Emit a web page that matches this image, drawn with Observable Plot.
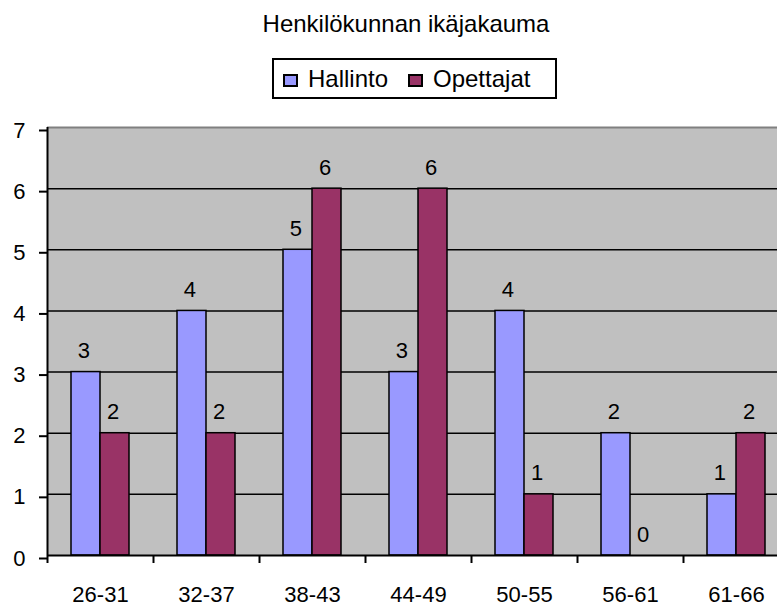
<!DOCTYPE html>
<html>
<head>
<meta charset="utf-8">
<script src="https://cdn.jsdelivr.net/npm/d3@7"></script>
<script src="https://cdn.jsdelivr.net/npm/@observablehq/plot@0.6"></script>
<style>
  html, body { margin: 0; padding: 0; background: #fff; overflow: hidden; }
  body { width: 777px; height: 605px; position: relative; font-family: "Liberation Sans", Arial, sans-serif; }
  #title { position: absolute; left: 0; top: 12px; width: 812px; text-align: center; font-size: 24px; line-height: 24px; color: #000; }
  #legend { position: absolute; left: 272px; top: 58px; width: 281px; height: 37px; border: 2px solid #000; background: #fff; }
  .sw { position: absolute; top: 14px; width: 11px; height: 9px; border: 2px solid #000; }
  .lt { position: absolute; top: 7px; font-size: 24px; line-height: 24px; }
  #chart { position: absolute; left: 0; top: 105px; }
  #chart svg { overflow: hidden; }
</style>
</head>
<body>
<div id="title">Henkilökunnan ikäjakauma</div>
<div id="legend"></div>
<div id="chart"></div>
<script>
const categories = ["26-31", "32-37", "38-43", "44-49", "50-55", "56-61", "61-66"];
const seriesNames = ["Hallinto", "Opettajat"];
const hallinto = [3, 4, 5, 3, 4, 2, 1];
const opettajat = [2, 2, 6, 6, 1, 0, 2];
const yTicks = [0, 1, 2, 3, 4, 5, 6, 7];
const colors = ["#9999FF", "#993366"];

// legend
const legend = document.getElementById("legend");
const legendX = [[9, 34], [134, 159]];
seriesNames.forEach((name, i) => {
  const sw = document.createElement("div");
  sw.className = "sw";
  sw.style.left = legendX[i][0] + "px";
  sw.style.background = colors[i];
  legend.appendChild(sw);
  const t = document.createElement("div");
  t.className = "lt";
  t.style.left = legendX[i][1] + "px";
  t.textContent = name;
  legend.appendChild(t);
});

// table built from the arrays
const half = 0.2736;
const rows = [];
categories.forEach((c, i) => {
  rows.push({cat: c, i, series: "Hallinto", value: hallinto[i], x1: i + 0.5 - half, x2: i + 0.5});
  rows.push({cat: c, i, series: "Opettajat", value: opettajat[i], x1: i + 0.5, x2: i + 0.5 + half});
});
const centers = categories.map((c, i) => i + 0.5);
const boundaries = categories.map((c, i) => i).concat([categories.length]);

const chart = Plot.plot({
  width: 777,
  height: 500,
  marginLeft: 47,
  marginRight: 0,
  marginTop: 22,
  marginBottom: 50,
  style: {fontFamily: "Liberation Sans, Arial, sans-serif", background: "transparent", overflow: "hidden"},
  x: {type: "linear", domain: [0, categories.length], range: [47, 47 + 106 * categories.length], axis: null},
  y: {domain: [0, 7], axis: null},
  color: {domain: seriesNames, range: colors},
  marks: [
    Plot.frame({fill: "#C0C0C0", stroke: null}),
    Plot.ruleY([7], {stroke: "#808080", strokeWidth: 2}),
    Plot.ruleY(yTicks.filter(d => d > 0 && d < 7), {stroke: "#000", strokeWidth: 1.5}),
    Plot.rectY(rows, {x1: "x1", x2: "x2", y1: 0, y2: "value", fill: "series", stroke: "#000", strokeWidth: 1.5}),
    Plot.text(rows, {x: d => (d.x1 + d.x2) / 2, y: "value", text: d => String(d.value), fontSize: 22, lineAnchor: "bottom", dy: -14, dx: -2, fill: "#000"}),
    Plot.ruleX([0], {stroke: "#000", strokeWidth: 2}),
    Plot.ruleY([0], {stroke: "#000", strokeWidth: 2}),
    Plot.axisY({ticks: yTicks, tickSize: 8, tickPadding: 14, fontSize: 22, dy: 3, label: null, tickFormat: d => String(d), stroke: "#000", strokeWidth: 2, color: "#000"}),
    Plot.axisX({ticks: boundaries, tickSize: 8, label: null, tickFormat: () => "", stroke: "#000", strokeWidth: 2}),
    Plot.axisX({ticks: centers, tickSize: 0, tickPadding: 31, fontSize: 22, label: null, tickFormat: d => categories[Math.floor(d)], color: "#000"})
  ]
});
document.getElementById("chart").appendChild(chart);
</script>
</body>
</html>
